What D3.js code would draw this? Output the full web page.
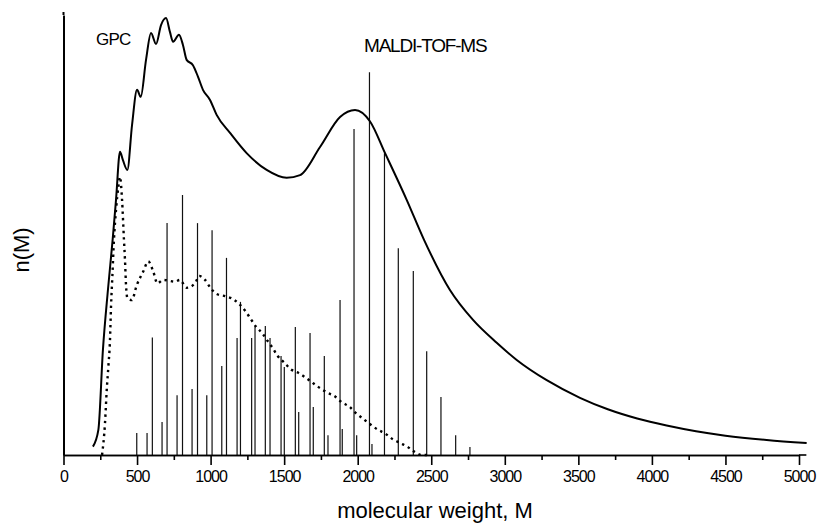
<!doctype html>
<html>
<head>
<meta charset="UTF-8">
<title>GPC vs MALDI-TOF-MS</title>
<script src="https://d3js.org/d3.v7.min.js"></script>
<style>
  body { margin: 0; background: #fff; }
  text { font-family: "Liberation Sans", Arial, sans-serif; fill: #000; }
</style>
</head>
<body>
<svg id="chart" width="819" height="524"></svg>
<script>
// GPC trace (solid line)
var gpcM = [200, 237, 268, 302, 334, 357, 384, 404, 434, 466, 500, 525, 561, 595, 629, 663, 697, 724, 745, 785, 812, 837, 880, 914, 948, 996, 1041, 1132, 1245, 1381, 1517, 1608, 1744, 1880, 1982, 2084, 2186, 2333, 2451, 2627, 2784, 2945, 3081, 3285, 3511, 3700, 3900, 4100, 4300, 4500, 4780, 5052];
var gpcN = [1.9, 5.7, 23.9, 37.5, 48.9, 58, 68.9, 67, 64.8, 75, 83, 81.4, 89.8, 95.9, 93.4, 97.7, 99.3, 96.1, 93.9, 95.5, 93.2, 89.8, 88.6, 86, 83, 80.7, 77.3, 73.2, 68.6, 64.8, 63, 63.6, 70, 76.8, 78.4, 75.8, 68.6, 58, 48.9, 37.5, 30.7, 25.5, 21.6, 17, 13, 10.4, 8.3, 6.7, 5.4, 4.4, 3.4, 2.7];

// MALDI envelope (dotted line)
var envM = [262, 282, 294, 305, 316, 323, 332, 343, 357, 373, 384, 398, 411, 418, 425, 434, 464, 498, 542, 576, 610, 638, 678, 758, 792, 837, 894, 923, 962, 1001, 1041, 1098, 1143, 1195, 1239, 1275, 1313, 1351, 1388, 1422, 1456, 1501, 1545, 1596, 1646, 1698, 1744, 1793, 1846, 1891, 1943, 1988, 2038, 2084, 2140, 2186, 2238, 2283, 2337, 2383, 2435, 2492];
var envN = [0, 7.2, 14.8, 20.1, 26.1, 33.7, 40.5, 48.9, 55.7, 61, 63.2, 58, 48.9, 44.3, 38.6, 35.7, 35.2, 38.6, 41.7, 44, 41.7, 39, 39.8, 39.4, 39.8, 38, 39, 40.7, 39.8, 37.9, 36.6, 36.1, 35.6, 34.3, 32.6, 30.8, 29, 27.7, 25.9, 24.3, 22.5, 21, 19.5, 18.7, 17.6, 16.3, 15.2, 14.2, 13.3, 12, 11, 9.5, 8.2, 7, 5.7, 4.9, 3.6, 2.8, 1.9, 0.8, 0, 0];

// MALDI-TOF-MS peaks (sticks)
var peakM = [498, 568, 604, 670, 704, 772, 809, 874, 911, 974, 1010, 1076, 1108, 1180, 1203, 1279, 1302, 1372, 1404, 1479, 1501, 1576, 1599, 1676, 1698, 1773, 1798, 1880, 1895, 1975, 1993, 2080, 2097, 2182, 2276, 2378, 2469, 2566, 2666, 2763];
var peakN = [5.0, 5.0, 26.7, 7.5, 52.7, 13.6, 59.1, 15, 52.7, 13.6, 51.1, 20.2, 44.8, 26.6, 34.8, 26.6, 29.3, 29.3, 26.6, 22.5, 20, 29.1, 9.8, 27.7, 10.9, 22.5, 4.5, 35.2, 5.9, 74.1, 4.5, 87, 2.5, 68.6, 47, 41.8, 23.6, 13.2, 4.5, 1.8];

var majorTicks = d3.range(0, 5001, 500);
var minorTicks = d3.range(250, 5000, 500);

var svg = d3.select("#chart");
var x = d3.scaleLinear().domain([0, 5000]).range([63.5, 799]);
var y = d3.scaleLinear().domain([0, 100]).range([455, 15]);

// sticks
svg.append("g").selectAll("line")
    .data(peakM)
    .enter().append("line")
    .attr("x1", function(d){ return x(d); })
    .attr("x2", function(d){ return x(d); })
    .attr("y1", y(0))
    .attr("y2", function(d, i){ return y(peakN[i]); })
    .attr("stroke", "#111")
    .attr("stroke-width", 1.2);

var line = d3.line()
    .x(function(d){ return x(d[0]); })
    .y(function(d){ return y(d[1]); })
    .curve(d3.curveMonotoneX);

svg.append("path")
    .datum(envM.map(function(m, i){ return [m, envN[i]]; }))
    .attr("d", line)
    .attr("fill", "none")
    .attr("stroke", "#000")
    .attr("stroke-width", 2.4)
    .attr("stroke-dasharray", "2.4,4");

svg.append("path")
    .datum(gpcM.map(function(m, i){ return [m, gpcN[i]]; }))
    .attr("d", line)
    .attr("fill", "none")
    .attr("stroke", "#000")
    .attr("stroke-width", 2);

// x axis
var gx = svg.append("g").attr("transform", "translate(0," + y(0) + ")");
gx.call(d3.axisBottom(x).tickValues(majorTicks).tickSize(10).tickSizeOuter(0).tickPadding(6).tickFormat(d3.format("d")));
gx.append("g").call(d3.axisBottom(x).tickValues(minorTicks).tickSize(5).tickSizeOuter(0).tickFormat(""));
gx.selectAll("path.domain").attr("stroke", "#000").attr("stroke-width", 1.6);
gx.selectAll("line").attr("stroke", "#000").attr("stroke-width", 1.6);
gx.selectAll("text")
    .style("font-size", "16px")
    .style("letter-spacing", "-1px")
    .attr("fill", "#000");
gx.append("line")
    .attr("x1", x(5000)).attr("x2", x(5050))
    .attr("stroke", "#000").attr("stroke-width", 1.6);

// y axis (no ticks)
var gy = svg.append("g").attr("transform", "translate(" + x(0) + ",0)");
gy.call(d3.axisLeft(y).tickValues([]).tickSizeOuter(0));
gy.select("path.domain").attr("stroke", "#000").attr("stroke-width", 2);
gy.append("line").attr("y1", y(100)).attr("y2", 12).attr("stroke", "#000").attr("stroke-width", 2);

// labels
svg.append("text")
    .attr("x", 435).attr("y", 518)
    .attr("text-anchor", "middle")
    .style("font-size", "22px")
    .text("molecular weight, M");

svg.append("text")
    .attr("transform", "translate(29,250) rotate(-90)")
    .attr("text-anchor", "middle")
    .style("font-size", "22px")
    .text("n(M)");

svg.append("text")
    .attr("x", 96).attr("y", 45)
    .style("font-size", "17px")
    .style("letter-spacing", "-0.8px")
    .text("GPC");

svg.append("text")
    .attr("x", 364).attr("y", 52)
    .style("font-size", "19px")
    .style("letter-spacing", "-1.2px")
    .text("MALDI-TOF-MS");
</script>
</body>
</html>
